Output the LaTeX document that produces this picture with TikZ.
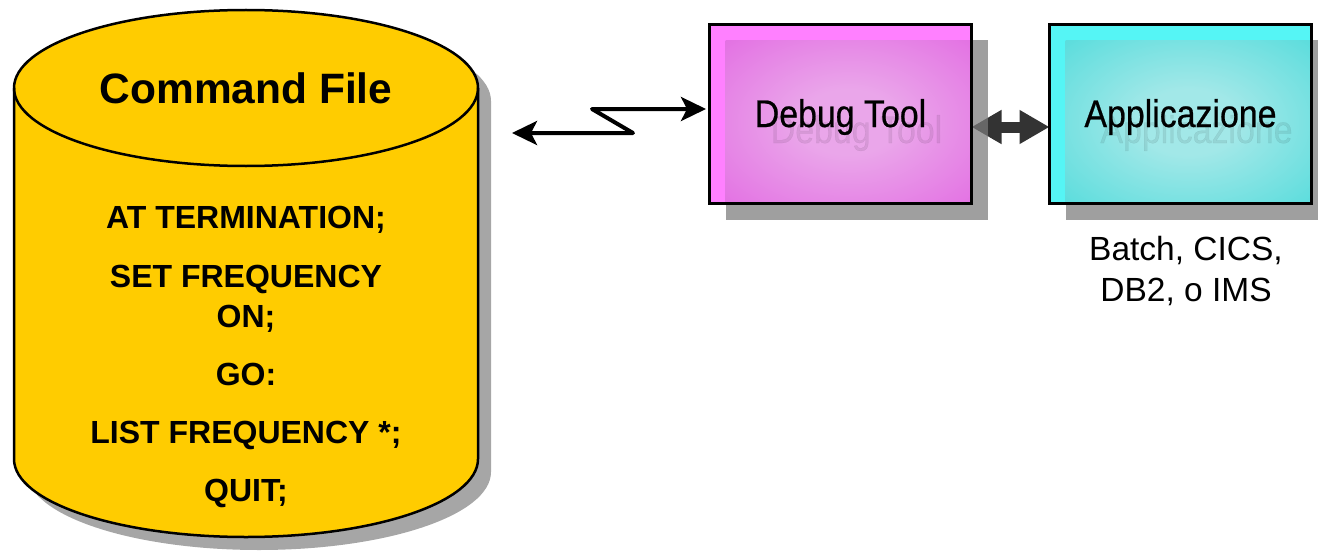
\documentclass[tikz,border=0pt]{standalone}
\usepackage{fontspec}
\setmainfont{Liberation Sans}
\newfontfamily\boxfont[FakeStretch=0.88,FakeBold=0.6]{Liberation Sans}
\usetikzlibrary{arrows.meta}

\definecolor{cylfill}{HTML}{FFCC00}
\definecolor{cylshadow}{HTML}{A6A6A6}
\definecolor{boxshadow}{HTML}{7A7A7A}
\definecolor{dbgstrip}{HTML}{FF80FF}
\definecolor{dbgedge}{HTML}{E05CE0}
\definecolor{dbgcore}{HTML}{EAA6EA}
\definecolor{appstrip}{HTML}{55F5F5}
\definecolor{appedge}{HTML}{3ED8D8}
\definecolor{appcore}{HTML}{A2E8E8}
\definecolor{linkgray}{HTML}{333333}

\pgfdeclareradialshading{dbgglow}{\pgfpoint{0bp}{0bp}}{color(0bp)=(dbgcore); color(10bp)=(dbgcore); color(46bp)=(dbgedge); color(50bp)=(dbgedge)}
\pgfdeclareradialshading{appglow}{\pgfpoint{0bp}{0bp}}{color(0bp)=(appcore); color(10bp)=(appcore); color(46bp)=(appedge); color(50bp)=(appedge)}

\tikzset{
  cyltitle/.style={font=\bfseries\fontsize{42.5}{50}\selectfont, anchor=base, inner sep=0pt},
  cyltext/.style={font=\bfseries\fontsize{32}{38}\selectfont, anchor=base, inner sep=0pt},
  boxframe/.style={draw=none, minimum width=262pt, minimum height=179pt, inner sep=0pt, outer sep=0pt},
  boxlabel/.style={font=\boxfont\fontsize{38.5}{44}\selectfont, anchor=base, inner sep=0pt},
  ghostlabel/.style={boxlabel, text=black, text opacity=0.08},
  boxshade/.style={fill=boxshadow, fill opacity=0.72},
  boxoutline/.style={draw=black, line width=3pt},
  radiolink/.style={draw=black, line width=4pt, line join=round,
    {Stealth[length=25pt,width=24pt,inset=6pt]}-{Stealth[length=25pt,width=24pt,inset=6pt]}},
  duplex/.style={draw=linkgray, line width=11pt,
    {Triangle[length=30pt,width=32pt]}-{Triangle[length=30pt,width=32pt]}},
  note/.style={font=\fontsize{33.5}{41}\selectfont, align=center, inner sep=0pt},
  cylline/.style={line width=2.5pt},
}

\begin{document}
\begin{tikzpicture}[x=1pt,y=-1pt]
\useasboundingbox (0,0) rectangle (1318,551);
\clip (0,0) rectangle (1318,551);

% command file drum: shadow, body and front rim of the lid
\fill[cylshadow, shift={(13,13)}]
  (14,88) -- (14,459) arc[start angle=180, end angle=360, x radius=232pt, y radius=78pt]
  -- (478,88) arc[start angle=0, end angle=180, x radius=232pt, y radius=78pt] -- cycle;
\draw[cylline, fill=cylfill]
  (14,88) -- (14,459) arc[start angle=180, end angle=360, x radius=232pt, y radius=78pt]
  -- (478,88) arc[start angle=0, end angle=180, x radius=232pt, y radius=78pt] -- cycle;
\draw[cylline] (14,88) arc[start angle=180, end angle=360, x radius=232pt, y radius=78pt];

\node[cyltitle] (cmdtitle) at (246,103) {Command File};
\node[cyltext] (cmd1) at (246,228) {AT TERMINATION;};
\node[cyltext] (cmd2) at (246,287) {SET FREQUENCY};
\node[cyltext] (cmd3) at (246,327) {ON;};
\node[cyltext] (cmd4) at (246,385) {GO:};
\node[cyltext] (cmd5) at (246,443) {LIST FREQUENCY *;};
\node[cyltext] (cmd6) at (246,501) {QUIT;};
\coordinate (cmdlink) at (512,133);

% the two boxes
\node[boxframe] (dbg) at (840.5,114) {};
\node[boxframe] (app) at (1180.5,114) {};

\draw[duplex] ([yshift=-13pt]dbg.east) -- ([yshift=-13pt]app.west);

\fill[boxshade] ([shift={(16pt,-16pt)}]dbg.north west) rectangle ([shift={(16pt,-16pt)}]dbg.south east);
\fill[boxshade] ([shift={(16pt,-16pt)}]app.north west) rectangle ([shift={(16pt,-16pt)}]app.south east);

\fill[dbgstrip] (dbg.north west) rectangle (dbg.south east);
\shade[shading=dbgglow] ([shift={(16pt,-16pt)}]dbg.north west) rectangle (dbg.south east);
\fill[appstrip] (app.north west) rectangle (app.south east);
\shade[shading=appglow] ([shift={(16pt,-16pt)}]app.north west) rectangle (app.south east);

\node[ghostlabel] (dbgghost) at ([shift={(16pt,-29pt)}]dbg.center) {Debug Tool};
\node[ghostlabel] (appghost) at ([shift={(16pt,-29pt)}]app.center) {Applicazione};

\draw[boxoutline] (dbg.north west) rectangle (dbg.south east);
\draw[boxoutline] (app.north west) rectangle (app.south east);

\node[boxlabel] (dbglabel) at ([yshift=-13pt]dbg.center) {Debug Tool};
\node[boxlabel] (applabel) at ([yshift=-13pt]app.center) {Applicazione};

\node[note] (env) at (1186,271) {Batch, CICS,\\DB2, o IMS};

% zigzag link between the command file and the debugger
\draw[radiolink] (cmdlink) -- ++(121,0) -- ++(-41,-24) -- ([shift={(-3.5pt,5pt)}]dbg.west);
\end{tikzpicture}
\end{document}
